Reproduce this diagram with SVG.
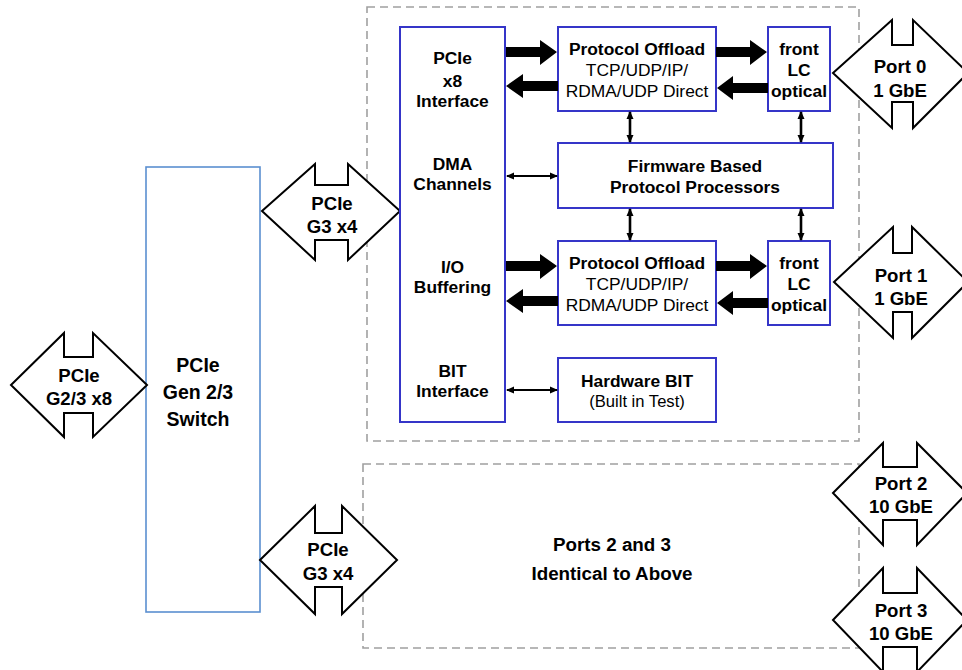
<svg xmlns="http://www.w3.org/2000/svg" width="962" height="670" viewBox="0 0 962 670">
<style>
.t{font-family:"Liberation Sans",Arial,sans-serif;font-size:17.4px;fill:#000;text-anchor:middle}
.b{font-weight:bold}
.p{font-size:18.6px}
.blk{fill:#fff;stroke:#3535c8;stroke-width:2}
.dash{fill:none;stroke:#a0a0a0;stroke-width:1.6;stroke-dasharray:8,5}
.port{fill:#fff;stroke:#000;stroke-width:2;stroke-linejoin:miter}
.fat{fill:#000}
.thin{stroke:#000;stroke-width:2;fill:none;marker-start:url(#ah);marker-end:url(#ah)}
.thick{stroke:#000;stroke-width:2.6;fill:none;marker-start:url(#ah);marker-end:url(#ah)}
</style>
<defs>
<marker id="ah" viewBox="0 0 8 8" refX="7" refY="4" markerWidth="8" markerHeight="8" markerUnits="userSpaceOnUse" orient="auto-start-reverse">
<path d="M0,0.5 L8,4 L0,7.5 z" fill="#000"/>
</marker>
</defs>
<rect width="962" height="670" fill="#fff"/>

<g id="frames">
<rect class="dash" x="367" y="7" width="492" height="434"/>
<rect class="dash" x="363" y="464" width="496" height="184"/>
</g>

<g id="switch">
<rect x="146" y="167" width="114" height="445" fill="#fff" stroke="#5b8fd0" stroke-width="1.6"/>
<text class="t b" x="198" y="372" style="font-size:19.5px">PCIe</text>
<text class="t b" x="198" y="399" style="font-size:19.5px">Gen 2/3</text>
<text class="t b" x="198" y="426" style="font-size:19.5px">Switch</text>
</g>

<g id="pcie-host">
<polygon class="port" points="11,385 64,333 64,357 93,357 93,333 147,385 93,437 93,413 64,413 64,437"/>
<text class="t b p" x="79" y="382">PCIe</text>
<text class="t b p" x="79" y="405">G2/3 x8</text>
</g>

<g id="pcie-g3-top">
<polygon class="port" points="262,211 315,164 315,185 348,185 348,164 400,211 348,260 348,240 315,240 315,260"/>
<text class="t b p" x="332" y="210">PCIe</text>
<text class="t b p" x="332" y="233">G3 x4</text>
</g>

<g id="pcie-g3-bottom">
<polygon class="port" points="260,560 315,506 315,533 342,533 342,506 397,560 342,614 342,587 315,587 315,614"/>
<text class="t b p" x="328" y="556">PCIe</text>
<text class="t b p" x="328" y="580">G3 x4</text>
</g>

<g id="interface">
<rect class="blk" x="400" y="27" width="105" height="395"/>
<text class="t b" x="452.5" y="64">PCIe</text>
<text class="t b" x="452.5" y="87">x8</text>
<text class="t b" x="452.5" y="107">Interface</text>
<text class="t b" x="452.5" y="170">DMA</text>
<text class="t b" x="452.5" y="190">Channels</text>
<text class="t b" x="452.5" y="273">I/O</text>
<text class="t b" x="452.5" y="293">Buffering</text>
<text class="t b" x="452.5" y="377">BIT</text>
<text class="t b" x="452.5" y="397">Interface</text>
</g>

<g id="offload-0">
<rect class="blk" x="558" y="27" width="158" height="84"/>
<text class="t b" x="637" y="55">Protocol Offload</text>
<text class="t" x="637" y="76">TCP/UDP/IP/</text>
<text class="t" x="637" y="97">RDMA/UDP Direct</text>
</g>

<g id="optical-0">
<rect class="blk" x="768" y="27" width="62" height="84"/>
<text class="t b" x="799" y="55">front</text>
<text class="t b" x="799" y="76">LC</text>
<text class="t b" x="799" y="97">optical</text>
</g>

<g id="firmware">
<rect class="blk" x="558" y="143" width="275" height="65"/>
<text class="t b" x="695" y="172">Firmware Based</text>
<text class="t b" x="695" y="193">Protocol Processors</text>
</g>

<g id="offload-1">
<rect class="blk" x="558" y="241" width="158" height="84"/>
<text class="t b" x="637" y="269">Protocol Offload</text>
<text class="t" x="637" y="290">TCP/UDP/IP/</text>
<text class="t" x="637" y="311">RDMA/UDP Direct</text>
</g>

<g id="optical-1">
<rect class="blk" x="768" y="241" width="62" height="84"/>
<text class="t b" x="799" y="269">front</text>
<text class="t b" x="799" y="290">LC</text>
<text class="t b" x="799" y="311">optical</text>
</g>

<g id="hwbit">
<rect class="blk" x="558" y="358" width="158" height="64"/>
<text class="t b" x="637" y="387">Hardware BIT</text>
<text class="t" x="637" y="407" style="font-size:16.6px">(Built in Test)</text>
</g>

<g id="port0">
<polygon class="port" points="833,73 892,20 892,45 913,45 913,20 968,73 913,128 913,102 892,102 892,128"/>
<text class="t b p" x="900" y="73">Port 0</text>
<text class="t b p" x="900" y="97">1 GbE</text>
</g>

<g id="port1">
<polygon class="port" points="834,282 893,227 893,253 912,253 912,227 968,282 912,338 912,312 893,312 893,338"/>
<text class="t b p" x="901" y="282">Port 1</text>
<text class="t b p" x="901" y="305">1 GbE</text>
</g>

<g id="port2">
<polygon class="port" points="833,493 883,443 883,467 917,467 917,443 967,493 917,545 917,520 883,520 883,545"/>
<text class="t b p" x="901" y="490">Port 2</text>
<text class="t b p" x="901" y="513">10 GbE</text>
</g>

<g id="port3">
<polygon class="port" points="833,620 883,568 883,593 917,593 917,568 967,620 917,672 917,647 883,647 883,672"/>
<text class="t b p" x="901" y="617">Port 3</text>
<text class="t b p" x="901" y="640">10 GbE</text>
</g>

<g id="ports23">
<text class="t b" x="612" y="551" style="font-size:18.8px">Ports 2 and 3</text>
<text class="t b" x="612" y="580" style="font-size:18.8px">Identical to Above</text>
</g>

<g id="connectors">
<polygon class="fat" points="506,47 540,47 540,40 557,52 540,65 540,57 506,57"/>
<polygon class="fat" points="558,81 523,81 523,74 506,86 523,98 523,91 558,91"/>
<polygon class="fat" points="716,47 750,47 750,40 767,52 750,65 750,57 716,57"/>
<polygon class="fat" points="768,83 733,83 733,76 717,88 733,100 733,93 768,93"/>
<polygon class="fat" points="506,261 540,261 540,254 557,266 540,279 540,271 506,271"/>
<polygon class="fat" points="558,296 523,296 523,289 506,301 523,313 523,306 558,306"/>
<polygon class="fat" points="716,261 750,261 750,254 767,266 750,279 750,271 716,271"/>
<polygon class="fat" points="768,298 733,298 733,291 717,303 733,315 733,308 768,308"/>
<line class="thin" x1="507" y1="176" x2="557" y2="176"/>
<line class="thin" x1="507" y1="390" x2="557" y2="390"/>
<line class="thick" x1="630" y1="112" x2="630" y2="142"/>
<line class="thick" x1="801" y1="112" x2="801" y2="142"/>
<line class="thick" x1="630" y1="209" x2="630" y2="240"/>
<line class="thick" x1="801" y1="209" x2="801" y2="240"/>
</g>
</svg>
